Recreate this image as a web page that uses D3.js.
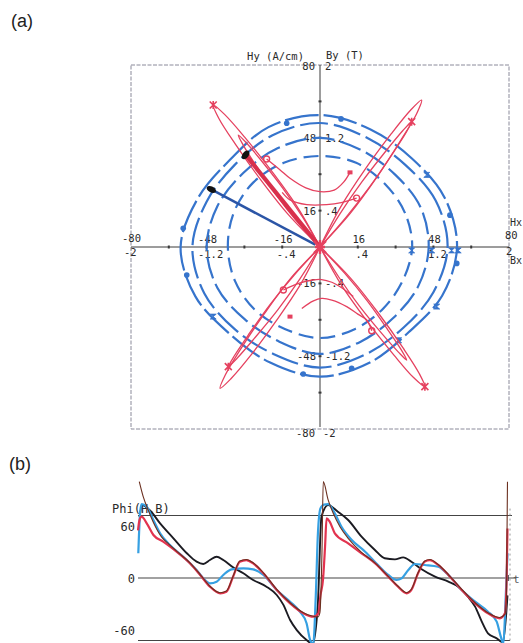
<!DOCTYPE html>
<html><head><meta charset="utf-8">
<script src="https://cdn.jsdelivr.net/npm/d3@7"></script>
<style>body{margin:0;background:#fff} svg{display:block}</style>
</head><body>
<svg id="c" width="523" height="643"></svg>
<script>
// ---------- panel (a) data ----------
const axisTicks = [-64,-48,-32,-16,16,32,48,64];
const hTickVals = [-48,-16,16,48];
const hTickLabels = ["-48","-16","16","48"];
const bTickLabels = ["-1.2","-.4",".4","1.2"];

// blue loci (Hx,Hy) closed loops, outer -> inner
const blueLoop4 = [[58,0],[52.7,21.8],[38.9,38.9],[21.4,51.7],[0,58],[-21.8,52.7],[-38.2,38.2],[-51.7,21.4],[-59,0],[-52.7,-21.8],[-38.2,-38.2],[-21.1,-50.8],[0,-57],[21.1,-50.8],[37.5,-37.5],[51.7,-21.4]];
const blueLoop3 = [[54,0],[49,20.3],[36.1,36.1],[19.9,48],[0,54.5],[-20.3,49],[-36.1,36.1],[-48,19.9],[-54,0],[-49,-20.3],[-36.1,-36.1],[-19.5,-47.1],[0,-53],[19.5,-47.1],[35.4,-35.4],[48,-19.9]];
const blueLoop2 = [[46,0],[42.5,17.6],[31.8,31.8],[17.6,42.5],[0,48],[-18,43.4],[-32.5,32.5],[-43.4,18],[-48,0],[-43.4,-18],[-31.8,-31.8],[-17.2,-41.6],[0,-47],[17.2,-41.6],[31.1,-31.1],[41.6,-17.2]];
const blueLoop1 = [[39,0],[36,14.9],[27.6,27.6],[15.3,37],[0,40],[-15.3,37],[-28.3,28.3],[-36.5,15.1],[-39,0],[-36,-14.9],[-27.6,-27.6],[-14.9,-36],[0,-40],[14.9,-36],[26.9,-26.9],[35.1,-14.6]];
const blueDots = [[-14.1,54.4],[8.9,56.3],[-57.9,8.2],[-56.4,-12.3],[-7.1,-55.8],[13.4,-53.3],[57.9,-7.2],[55,14]];
const blueBows = [[45.2,31.7],[-45.2,-30.6],[33.3,-41],[49.4,-26.2],[38.8,-1.5],[47.3,-1.5],[55.7,-1.5],[58.5,-1.5]];

// red loci (Bx,By) narrow loops along the diagonals
const neOuter = [[0,0],[12.8,14.8],[24.0,30.6],[34.3,47.1],[40.9,58.6],[43,64.6],[38.4,60.2],[30.2,49.8],[19.0,34.0],[8.7,17.5],[0,0]];
const neInner = [[0,0],[10.9,12.9],[21.0,26.4],[30.3,40.4],[36.4,50.2],[38.8,55.1],[35.1,51.2],[27.9,42.2],[17.8,28.7],[8.5,14.7],[0,0]];
const swOuter = [[0,0],[-12.7,-14.1],[-23.6,-29.4],[-33.8,-45.2],[-40.1,-56.3],[-42.3,-62.1],[-37.7,-57.9],[-29.6,-48.0],[-18.7,-32.7],[-8.5,-16.9],[0,0]];
const swInner = [[0,0],[-10.9,-12.3],[-21.0,-25.1],[-30.3,-38.6],[-36.3,-47.9],[-38.8,-52.6],[-35.1,-48.9],[-27.9,-40.3],[-17.8,-27.5],[-8.5,-14.0],[0,0]];
const nwOuter = [[0,0],[-9.3,17.1],[-20.2,33.0],[-31.9,48.3],[-40.4,58.3],[-45.2,62.4],[-42.8,56.5],[-35.9,45.3],[-25.0,29.4],[-13.3,14.1],[0,0]];
const nwInner = [[0,0],[-7.4,13.2],[-15.7,25.8],[-24.7,37.8],[-31.2,45.8],[-34.6,49.2],[-32.5,44.8],[-27.2,36.0],[-18.9,23.4],[-9.9,11.4],[0,0]];
const seOuter = [[0,0],[13.1,-13.9],[24.6,-28.9],[35.3,-44.6],[42.0,-55.6],[44.4,-61.4],[39.6,-57.4],[31.3,-47.5],[19.8,-32.5],[9.1,-16.8],[0,0]];
const seInner = [[0,0],[10.4,-11.5],[20.0,-23.7],[28.7,-36.4],[34.4,-45.2],[36.7,-49.7],[33.2,-46.2],[26.3,-38.2],[16.7,-26.0],[8.0,-13.3],[0,0]];
const upperCurve1 = [[-22.6,38.7],[-17,34],[-12.7,30.2],[-6,26],[0,24.3],[6,25],[10,28.5],[12.7,32.8]];
const upperCurve2 = [[-16,24],[-12.7,20.7],[-5.6,18.6],[2.8,18.6],[9,19.5],[15.5,21.5]];
const lowerCurve1 = [[-15.5,-18.9],[-9,-16],[-3,-14.5],[0.7,-14.3],[5,-15.5],[8.5,-17.5],[14.1,-21.8]];
const lowerCurve2 = [[-7.7,-27],[-3,-23.8],[0.7,-22.6],[5,-23.3],[11.3,-26.2],[16,-29.5],[19.8,-32.1],[21.9,-36.8]];
const redStars = [[-45.2,62.4],[44.4,-61.4],[38.8,55.1],[-38.8,-52.6]];
const redRings = [[-22.6,38.7],[15.5,21.5],[-15.5,-18.9],[21.9,-36.8]];
const redSquares = [[12.7,32.8],[-12.7,-30.6]];
const blueArrow = [[-2,1],[-46,25.3]];
const redArrow = [[0,0],[-31.5,40.5]];

// ---------- panel (b) data: [t (deg), Phi] ----------
const redPhi = [[0,55],[3,67],[7,70.6],[17,63],[30,49.5],[49,41.8],[75,30.3],[101,16.9],[121,3.5],[140,-10],[160,-17.6],[172,-15.8],[185,1.5],[198,18.8],[211,20.7],[224,16.9],[244,5.4],[270,-13.8],[296,-29.2],[322,-40.7],[341,-44.6],[351,-40.7],[355,-20],[360,-2],[364,36],[367,68.8],[373,64.9],[383,51.5],[409,40],[435,28.5],[461,17],[487,1.5],[506,-10],[523,-17.6],[532,-13.8],[545,5.4],[558,18.8],[568,20.7],[584,15],[604,3.5],[630,-13.8],[656,-29.2],[681,-40.7],[704,-46.4],[714,-40.7],[717,-10],[719,57]];
const bluePhi = [[0.6,28.5],[4,74.5],[7,85],[17,82],[30,66.8],[43,51.5],[62,38],[88,24.5],[114,9.2],[127,-0.3],[140,-6.1],[153,-4.2],[166,3.5],[182,10],[205,11.2],[224,10],[244,3.5],[270,-13.8],[296,-27.3],[315,-38.8],[328,-52.2],[335,-71.4],[341,-76],[346,-20],[350,50],[355,80],[362,84.5],[370,85],[383,74.5],[396,59],[416,43.8],[442,30.3],[467,15],[487,3.5],[503,-2.3],[513,-0.4],[526,9.2],[539,16.1],[558,15],[584,13],[604,3.5],[630,-13.8],[656,-27.3],[681,-38.8],[698,-50.3],[706,-67.6],[711,-76],[715,-30],[719,28.5]];
const blackPhi = [[3,70],[8,84],[23,78],[43,63],[69,45.7],[95,28.5],[114,18.8],[127,16.1],[140,20.7],[153,24.5],[166,20.7],[185,12.3],[205,5.4],[224,-2.3],[250,-10],[270,-19.6],[283,-31],[296,-48.4],[309,-60],[328,-71.4],[340,-76],[350,-30],[357,70.6],[370,84],[389,76.4],[409,66.8],[435,47.6],[461,32.3],[480,22.7],[500,21.5],[516,23.8],[532,18.8],[552,10],[578,1.5],[604,-4.2],[623,-10],[642,-21.5],[656,-33],[669,-50.3],[681,-63.7],[698,-69.5],[710,-74],[716,-45],[719,-20]];
const brownPhi = [[2.5,111],[10,94],[20,78],[30,64],[45,48],[60,39],[75,31],[101,17.5],[121,4],[140,-9.5],[160,-17],[172,-15],[185,2],[198,19.5],[211,21.3],[224,17.5],[244,6],[270,-13],[296,-28.5],[322,-40],[341,-44],[350,-45],[354,-40],[358,30],[360.5,111],[370,90],[380,74.5],[393,59],[409,45.7],[435,29.5],[461,17.5],[487,2],[506,-9.5],[523,-17],[532,-13],[545,6],[558,19.5],[568,21.3],[584,15.5],[604,4],[630,-13],[656,-28.5],[681,-40],[704,-45.5],[714,-42],[717,-20],[719,111]];
const phiTicks = [60,0,-60];
const phiTickLabels = ["60","0","-60"];
const periodMarks = [360,720];

// ---------- drawing ----------
const svg = d3.select("#c");
const BLUE = "#3674cc", RED = "#e5415f", AXC = "#3a3a3a";
const mono = "'DejaVu Sans Mono', 'Liberation Mono', monospace";

svg.append("text").attr("x",11).attr("y",27).attr("font-family","'Liberation Sans', Arial, sans-serif").attr("font-size",18).attr("fill","#222").text("(a)");
svg.append("text").attr("x",9).attr("y",470).attr("font-family","'Liberation Sans', Arial, sans-serif").attr("font-size",18).attr("fill","#222").text("(b)");

const xa = d3.scaleLinear().domain([-80,80]).range([131,509]);
const ya = d3.scaleLinear().domain([-80,80]).range([429,65]);
const ga = svg.append("g");

// frame
ga.append("rect").attr("x",xa(-80)).attr("y",ya(80)).attr("width",xa(80)-xa(-80)).attr("height",ya(-80)-ya(80))
  .attr("fill","none").attr("stroke","#8a8a9a").attr("stroke-width",1).attr("stroke-dasharray","4,1.5");
// axes
ga.append("line").attr("x1",xa(-80)).attr("x2",xa(80)).attr("y1",ya(0)).attr("y2",ya(0)).attr("stroke",AXC).attr("stroke-width",1);
ga.append("line").attr("x1",xa(0)).attr("x2",xa(0)).attr("y1",ya(80)).attr("y2",ya(-80)-2).attr("stroke",AXC).attr("stroke-width",1);
ga.selectAll(".tx").data(axisTicks).join("line").attr("x1",d=>xa(d)).attr("x2",d=>xa(d)).attr("y1",ya(0)-1.5).attr("y2",ya(0)+1.5).attr("stroke",AXC).attr("stroke-width",2);
ga.selectAll(".ty").data(axisTicks).join("line").attr("x1",xa(0)-1.5).attr("x2",xa(0)+1.5).attr("y1",d=>ya(d)).attr("y2",d=>ya(d)).attr("stroke",AXC).attr("stroke-width",2);

function txt(g,x,y,s,anchor,size){
  return g.append("text").attr("x",x).attr("y",y).attr("text-anchor",anchor||"start")
    .attr("font-family",mono).attr("font-size",size||10.5).attr("fill","#2a2a2a").text(s);
}
// axis labels
hTickVals.forEach((v,i)=>{
  txt(ga,xa(v)+1,ya(0)-4,hTickLabels[i],"middle");
  txt(ga,xa(v)+4,ya(0)+11,bTickLabels[i],"middle");
  txt(ga,xa(0)-4,ya(v)+4,hTickLabels[i],"end");
  txt(ga,xa(0)+5,ya(v)+4,bTickLabels[i],"start");
});
txt(ga,xa(0)-5,ya(80)+5,"80","end");
txt(ga,xa(0)+5,ya(80)+5,"2","start");
txt(ga,xa(0)-5,ya(-80)+8,"-80","end");
txt(ga,xa(0)+3,ya(-80)+8,"-2","start");
txt(ga,xa(0)-16,ya(80)-5,"Hy (A/cm)","end");
txt(ga,xa(0)+6,ya(80)-6,"By (T)","start");
txt(ga,xa(-80)-9,ya(0)-5,"-80","start");
txt(ga,xa(-80)-7,ya(0)+9,"-2","start");
txt(ga,xa(80)-4,ya(0)-8,"80","start");
txt(ga,xa(80)-3,ya(0)+8,"2","start");
txt(ga,xa(80)+1,ya(0)-21,"Hx","start",10);
txt(ga,xa(80)+1,ya(0)+17,"Bx","start",10);

// blue loops
const closedLine = d3.line().x(d=>xa(d[0])).y(d=>ya(d[1])).curve(d3.curveCatmullRomClosed.alpha(0.5));
const loops = [[blueLoop4,"34,5"],[blueLoop3,"28,6"],[blueLoop2,"22,6"],[blueLoop1,"15,7"]];
loops.forEach(([pts,dash])=>{
  ga.append("path").attr("d",closedLine(pts)).attr("fill","none").attr("stroke",BLUE).attr("stroke-width",2.2).attr("stroke-dasharray",dash);
});
ga.selectAll(".bd").data(blueDots).join("circle").attr("cx",d=>xa(d[0])).attr("cy",d=>ya(d[1])).attr("r",2.8).attr("fill",BLUE);
ga.selectAll(".bb").data(blueBows).join("path").attr("transform",d=>`translate(${xa(d[0])},${ya(d[1])})`)
  .attr("d","M-3,-2.5L3,-2.5L-3,2.5L3,2.5Z").attr("fill",BLUE).attr("stroke",BLUE).attr("stroke-width",0.8);

// red loops
const openLine = d3.line().x(d=>xa(d[0])).y(d=>ya(d[1])).curve(d3.curveCatmullRom.alpha(0.5));
[neOuter,neInner,swOuter,swInner,nwOuter,nwInner,seOuter,seInner].forEach(p=>{
  ga.append("path").attr("d",openLine(p)).attr("fill","none").attr("stroke",RED).attr("stroke-width",1.3);
});
[upperCurve1,upperCurve2,lowerCurve1,lowerCurve2].forEach(p=>{
  ga.append("path").attr("d",openLine(p)).attr("fill","none").attr("stroke",RED).attr("stroke-width",1.3);
});
// arrows
const straight = d3.line().x(d=>xa(d[0])).y(d=>ya(d[1]));
ga.append("path").attr("d",straight(blueArrow)).attr("stroke","#2b55a6").attr("stroke-width",2.6).attr("fill","none");
ga.append("path").attr("d",straight(redArrow)).attr("stroke","#d8304c").attr("stroke-width",4.2).attr("fill","none");
function blob(p,ang){
  ga.append("ellipse").attr("cx",xa(p[0])).attr("cy",ya(p[1])).attr("rx",5).attr("ry",3)
    .attr("transform",`rotate(${ang},${xa(p[0])},${ya(p[1])})`).attr("fill","#111");
}
blob(blueArrow[1],27);
blob(redArrow[1],-52);
// red markers
ga.selectAll(".rs").data(redStars).join("path").attr("transform",d=>`translate(${xa(d[0])},${ya(d[1])})`)
  .attr("d","M-3.5,-3.5L3.5,3.5M-3.5,3.5L3.5,-3.5M0,-4L0,4").attr("stroke",RED).attr("stroke-width",1.6);
ga.append("path").attr("transform",`translate(${xa(0)},${ya(0)})`)
  .attr("d","M-6,-6L6,6M-6,6L6,-6M0,-7L0,7M-5,0L5,0").attr("stroke",RED).attr("stroke-width",2.4);
ga.selectAll(".rr").data(redRings).join("circle").attr("cx",d=>xa(d[0])).attr("cy",d=>ya(d[1])).attr("r",3)
  .attr("fill","none").attr("stroke",RED).attr("stroke-width",1.4);
ga.selectAll(".rq").data(redSquares).join("rect").attr("x",d=>xa(d[0])-2.5).attr("y",d=>ya(d[1])-2).attr("width",5).attr("height",4).attr("fill",RED);

// ---------- panel (b) ----------
const xb = d3.scaleLinear().domain([0,720]).range([138,508]);
const yb = d3.scaleLinear().domain([-72,72]).range([640.5,515.5]);
const gb = svg.append("g");
svg.append("defs").append("clipPath").attr("id","cb").append("rect").attr("x",130).attr("y",479).attr("width",393).attr("height",164);

gb.append("line").attr("x1",xb(0)).attr("x2",xb(720)+4).attr("y1",yb(72)).attr("y2",yb(72)).attr("stroke","#444").attr("stroke-width",1.2);
gb.append("line").attr("x1",xb(0)).attr("x2",xb(720)+8).attr("y1",yb(0)).attr("y2",yb(0)).attr("stroke","#444").attr("stroke-width",1.2);
gb.append("line").attr("x1",xb(0)).attr("x2",xb(720)+2).attr("y1",yb(-72)).attr("y2",yb(-72)).attr("stroke","#444").attr("stroke-width",1.2);
gb.append("line").attr("x1",xb(720)+2).attr("x2",xb(720)+2).attr("y1",yb(80)).attr("y2",yb(-72)).attr("stroke","#999").attr("stroke-width",1).attr("stroke-dasharray","2,3");
gb.selectAll(".pm").data(periodMarks).join("line").attr("x1",d=>xb(d)).attr("x2",d=>xb(d)).attr("y1",yb(0)-3).attr("y2",yb(0)+3).attr("stroke","#333").attr("stroke-width",1.5);
phiTicks.forEach((v,i)=>{
  gb.append("text").attr("x",xb(0)-3).attr("y",yb(v)+5).attr("text-anchor","end").attr("font-family",mono).attr("font-size",12).attr("fill","#2a2a2a").text(phiTickLabels[i]);
});
gb.append("text").attr("x",112).attr("y",513).attr("font-family",mono).attr("font-size",12).attr("fill","#2a2a2a").text("Phi(H,B)");
gb.append("text").attr("x",xb(720)+5).attr("y",yb(0)+5).attr("font-family",mono).attr("font-size",11).attr("fill","#555").text("t");

const lb = d3.line().x(d=>xb(d[0])).y(d=>yb(d[1])).curve(d3.curveMonotoneX);
const cg = gb.append("g").attr("clip-path","url(#cb)");
cg.append("path").attr("d",lb(blackPhi)).attr("fill","none").attr("stroke","#1b1b22").attr("stroke-width",1.9);
cg.append("path").attr("d",lb(bluePhi)).attr("fill","none").attr("stroke","#36a0e2").attr("stroke-width",2.2);
cg.append("path").attr("d",lb(redPhi)).attr("fill","none").attr("stroke","#e2334f").attr("stroke-width",2.2);
cg.append("path").attr("d",lb(brownPhi)).attr("fill","none").attr("stroke","#6b3020").attr("stroke-width",1.1);
</script>
</body></html>
